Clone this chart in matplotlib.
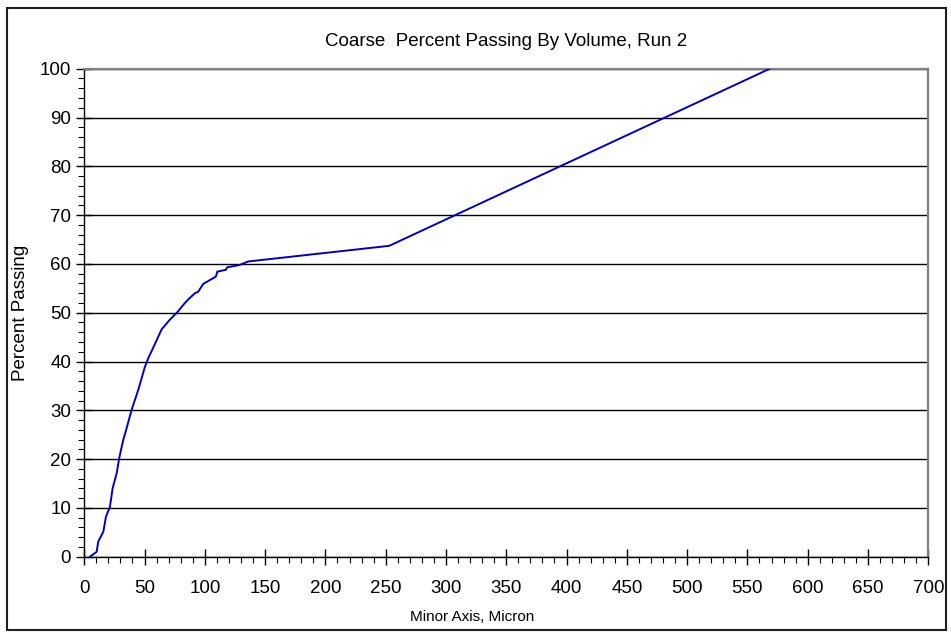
import matplotlib
matplotlib.use("Agg")
import matplotlib.pyplot as plt
from matplotlib.patches import Rectangle
from matplotlib.ticker import MultipleLocator

plt.rcParams['font.family'] = ['Liberation Sans', 'DejaVu Sans']

# cumulative percent passing vs minor axis length (micron)
minor_axis = [4.7, 10.3, 11.6, 15.8, 18.0, 21.3, 23.5, 26.9, 29.0, 32.3,
              34.3, 39.3, 44.8, 50.3, 53.1, 56.4, 61.4, 64.2, 71.1, 77.9,
              82.1, 86.2, 91.8, 94.5, 98.7, 109.2, 110.3, 117.5, 118.6, 129.1,
              136.0, 252.9, 568.6]
percent_passing = [0.0, 1.0, 3.1, 5.1, 8.2, 10.2, 14.0, 17.1, 20.2, 23.9,
                   25.6, 30.1, 34.2, 38.9, 40.7, 42.4, 45.1, 46.6, 48.6, 50.3,
                   51.6, 52.7, 54.0, 54.3, 55.9, 57.4, 58.4, 58.8, 59.3, 59.8,
                   60.5, 63.7, 100.0]

fig = plt.figure(figsize=(9.51, 6.35), dpi=100)
ax = fig.add_axes([0.0886, 0.1233, 0.8875, 0.7685])

ax.plot(minor_axis, percent_passing, color='#0000C0', lw=1.4, zorder=3)

ax.set_xlim(0, 700)
ax.set_ylim(0, 100)
ax.xaxis.set_major_locator(MultipleLocator(50))
ax.xaxis.set_minor_locator(MultipleLocator(10))
ax.yaxis.set_major_locator(MultipleLocator(10))
ax.yaxis.set_minor_locator(MultipleLocator(2))
ax.tick_params(which='major', direction='inout', length=12, width=1,
               labelsize=13.5, color='black')
ax.tick_params(axis='x', which='major', pad=11)
ax.tick_params(which='minor', direction='out', length=4, width=0.8)

ax.grid(axis='y', which='major', color='black', lw=1)
for side in ('top', 'right'):
    ax.spines[side].set_color('#808080')
    ax.spines[side].set_linewidth(1.6)
for side in ('bottom', 'left'):
    ax.spines[side].set_color('black')
    ax.spines[side].set_linewidth(1)

ax.set_ylabel('Percent Passing', fontsize=13.5, labelpad=8)
fig.text(472 / 951, 1 - 617 / 635, 'Minor Axis, Micron', fontsize=11,
         ha='center', va='center')
fig.text(506 / 951, 1 - 41 / 635, 'Coarse  Percent Passing By Volume, Run 2',
         fontsize=13.5, ha='center', va='center')

# chart border
fig.patches.append(Rectangle((7 / 951, 5 / 635), 939 / 951, 622 / 635,
                             transform=fig.transFigure, fill=False,
                             edgecolor='#202020', lw=1.5))

fig.savefig('out.png', dpi=100)
